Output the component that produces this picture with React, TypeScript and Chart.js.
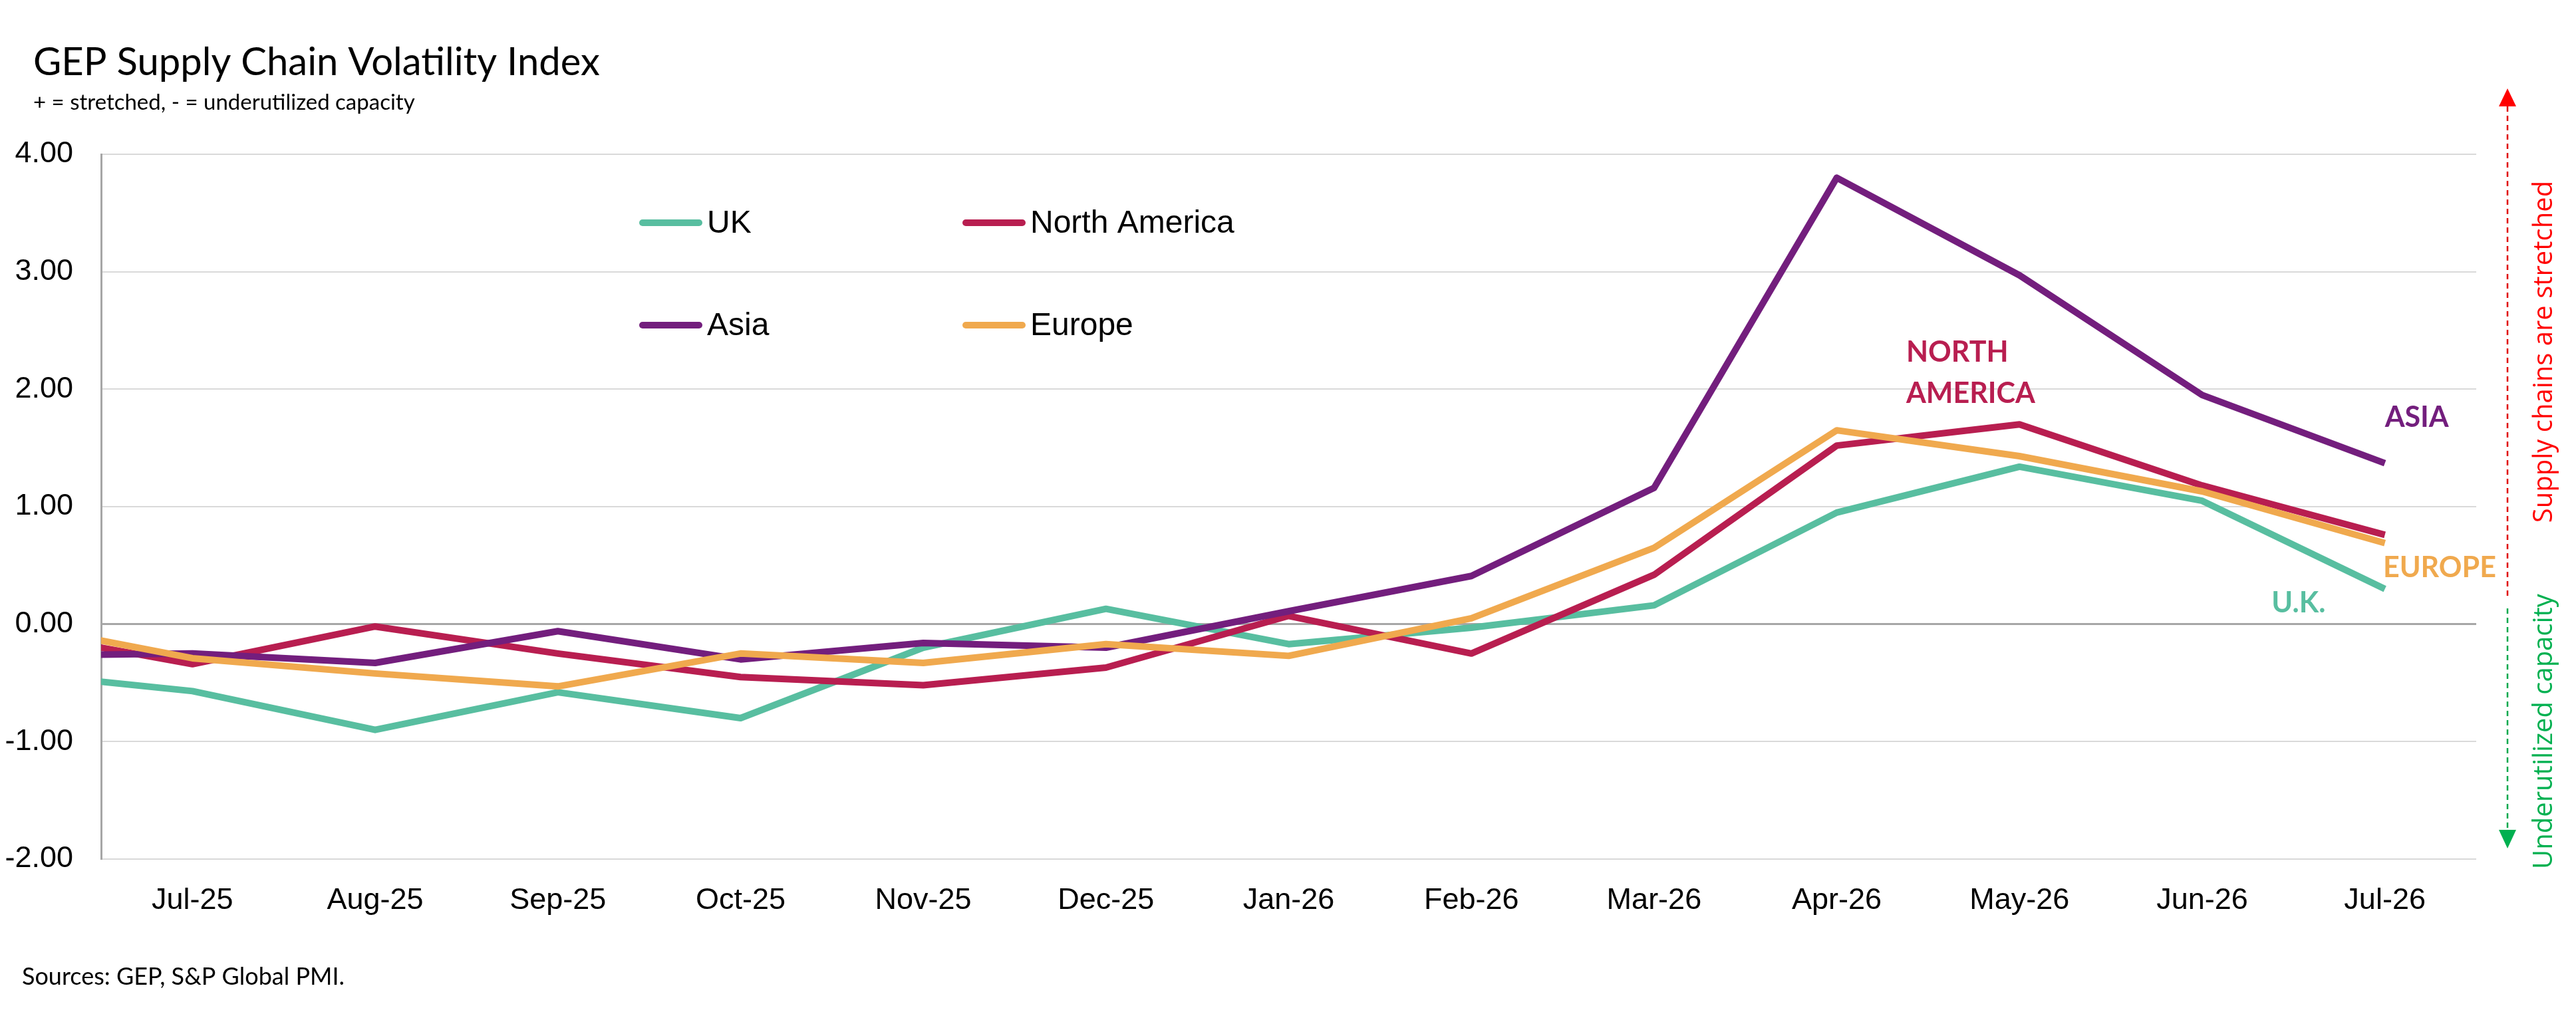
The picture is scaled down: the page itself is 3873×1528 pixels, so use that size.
import { Chart, registerables } from "chart.js";
import { useEffect, useRef } from "react";

Chart.register(...registerables);

// Jun-25 sits just outside the x range, so the lines run in from the axis like the original
const months = ["Jun-25", "Jul-25", "Aug-25", "Sep-25", "Oct-25", "Nov-25", "Dec-25", "Jan-26", "Feb-26", "Mar-26", "Apr-26", "May-26", "Jun-26", "Jul-26"];
const ukValues = [-0.41, -0.57, -0.90, -0.58, -0.80, -0.20, 0.13, -0.17, -0.03, 0.16, 0.95, 1.34, 1.05, 0.30];
const northAmericaValues = [-0.06, -0.34, -0.02, -0.25, -0.45, -0.52, -0.37, 0.07, -0.25, 0.42, 1.52, 1.70, 1.18, 0.76];
const asiaValues = [-0.27, -0.25, -0.33, -0.06, -0.30, -0.16, -0.20, 0.11, 0.41, 1.16, 3.80, 2.97, 1.95, 1.37];
const europeValues = [0.01, -0.29, -0.42, -0.53, -0.25, -0.33, -0.17, -0.27, 0.05, 0.65, 1.65, 1.43, 1.13, 0.69];
const seriesNames = ["UK", "North America", "Asia", "Europe"];
const yTicks = [-2, -1, 0, 1, 2, 3, 4];

const colors = {
  uk: "#58BEA0",
  northAmerica: "#B81E50",
  asia: "#731E7D",
  europe: "#F0A94E",
};

const labelFont = "bold 43px Lato, sans-serif";

// end-of-line labels, placed in data coordinates
const lineLabels = [
  { text: "NORTH", color: colors.northAmerica, at: 10.38, v: 2.31 },
  { text: "AMERICA", color: colors.northAmerica, at: 10.38, v: 1.96 },
  { text: "ASIA", color: colors.asia, at: 13.0, v: 1.76 },
  { text: "EUROPE", color: colors.europe, at: 12.99, v: 0.48 },
  { text: "U.K.", color: colors.uk, at: 12.38, v: 0.18 },
];

const overlay = {
  id: "overlay",
  afterDraw(chart: any) {
    const ctx = chart.ctx;
    const x = chart.scales.x;
    const y = chart.scales.y;
    ctx.save();

    // titles
    ctx.fillStyle = "#000";
    ctx.textAlign = "left";
    ctx.textBaseline = "alphabetic";
    ctx.font = "58px Lato, sans-serif";
    ctx.fillText("GEP Supply Chain Volatility Index", 50, 113);
    ctx.font = "33px Lato, sans-serif";
    ctx.fillText("+ = stretched, - = underutilized capacity", 50, 165);
    ctx.font = "36px Lato, sans-serif";
    ctx.fillText("Sources: GEP, S&P Global PMI.", 33, 1481);

    // legend, two columns
    const slots = [[961, 335], [1447, 335], [961, 489], [1447, 489]];
    chart.data.datasets.forEach((ds: any, i: number) => {
      const [lx, ly] = slots[i];
      ctx.strokeStyle = ds.borderColor;
      ctx.lineWidth = 10;
      ctx.lineCap = "round";
      ctx.beginPath();
      ctx.moveTo(lx + 5, ly);
      ctx.lineTo(lx + 90, ly);
      ctx.stroke();
      ctx.fillStyle = "#000";
      ctx.font = "48px 'Liberation Sans', Arial, sans-serif";
      ctx.textBaseline = "middle";
      ctx.fillText(ds.label, lx + 102, ly + 2);
    });

    // labels next to the lines
    ctx.font = labelFont;
    ctx.textBaseline = "middle";
    lineLabels.forEach((l) => {
      ctx.fillStyle = l.color;
      ctx.fillText(l.text, x.getPixelForValue(l.at), y.getPixelForValue(l.v));
    });

    // right-hand arrows
    const ax = 3770;
    ctx.lineCap = "butt";
    ctx.lineWidth = 2.5;
    ctx.setLineDash([8, 6]);
    ctx.strokeStyle = "#E00000";
    ctx.beginPath();
    ctx.moveTo(ax, 160);
    ctx.lineTo(ax, 897);
    ctx.stroke();
    ctx.strokeStyle = "#00A84C";
    ctx.beginPath();
    ctx.moveTo(ax, 915);
    ctx.lineTo(ax, 1248);
    ctx.stroke();
    ctx.setLineDash([]);
    ctx.fillStyle = "#FF0000";
    ctx.beginPath();
    ctx.moveTo(ax, 133);
    ctx.lineTo(ax - 13, 160);
    ctx.lineTo(ax + 13, 160);
    ctx.closePath();
    ctx.fill();
    ctx.fillStyle = "#00B050";
    ctx.beginPath();
    ctx.moveTo(ax, 1276);
    ctx.lineTo(ax - 13, 1248);
    ctx.lineTo(ax + 13, 1248);
    ctx.closePath();
    ctx.fill();

    ctx.font = "40px 'Open Sans', sans-serif";
    ctx.textAlign = "center";
    ctx.textBaseline = "middle";
    ctx.translate(3826, 0);
    ctx.rotate(-Math.PI / 2);
    ctx.fillStyle = "#FF0000";
    ctx.fillText("Supply chains are stretched", -529, 0);
    ctx.fillStyle = "#00B050";
    ctx.fillText("Underutilized capacity", -1100, 0);
    ctx.restore();
  },
};

const App: React.FC = () => {
  const chartRef = useRef<HTMLCanvasElement | null>(null);

  useEffect(() => {
    if (!chartRef.current) return;
    const line = (label: string, data: number[], color: string, order: number) => ({
      label,
      data,
      borderColor: color,
      backgroundColor: color,
      borderWidth: 10,
      borderJoinStyle: "round" as const,
      pointRadius: 0,
      tension: 0,
      clip: 0,
      order,
    });

    const myChart = new Chart(chartRef.current, {
      type: "line",
      data: {
        labels: months,
        datasets: [
          line(seriesNames[0], ukValues, colors.uk, 3),
          line(seriesNames[1], northAmericaValues, colors.northAmerica, 2),
          line(seriesNames[2], asiaValues, colors.asia, 1),
          line(seriesNames[3], europeValues, colors.europe, 0),
        ],
      },
      options: {
        animation: false,
        responsive: true,
        maintainAspectRatio: false,
        devicePixelRatio: 1,
        layout: { padding: { left: 0, right: 150, top: 232, bottom: 0 } },
        scales: {
          x: {
            type: "category",
            min: "Jul-25",
            offset: true,
            grid: { display: false, drawTicks: false },
            border: { display: false },
            ticks: {
              color: "#000",
              padding: 36,
              font: { family: "'Liberation Sans', Arial, sans-serif", size: 45 },
            },
            afterFit: (axis: any) => { axis.height = 236; },
          },
          y: {
            min: yTicks[0],
            max: yTicks[yTicks.length - 1],
            afterBuildTicks: (axis: any) => { axis.ticks = yTicks.map((v) => ({ value: v })); },
            grid: {
              drawTicks: false,
              color: (c: any) => (c.tick && c.tick.value === 0 ? "#A6A6A6" : "#D9D9D9"),
              lineWidth: (c: any) => (c.tick && c.tick.value === 0 ? 3 : 2),
            },
            border: { display: true, color: "#A6A6A6", width: 3 },
            ticks: {
              color: "#000",
              padding: 42,
              font: { family: "'Liberation Sans', Arial, sans-serif", size: 45 },
              callback: (v: any) => Number(v).toFixed(2),
            },
            afterFit: (axis: any) => { axis.width = 152; },
          },
        },
        plugins: {
          legend: { display: false },
          tooltip: { enabled: false },
          title: { display: false },
        },
      },
      plugins: [overlay],
    });
    return () => myChart.destroy();
  }, []);

  return (
    <div style={{ position: "fixed", left: 0, top: 0, width: "100vw", height: "100vh", background: "#fff" }}>
      <canvas ref={chartRef} />
    </div>
  );
};

export default App;
